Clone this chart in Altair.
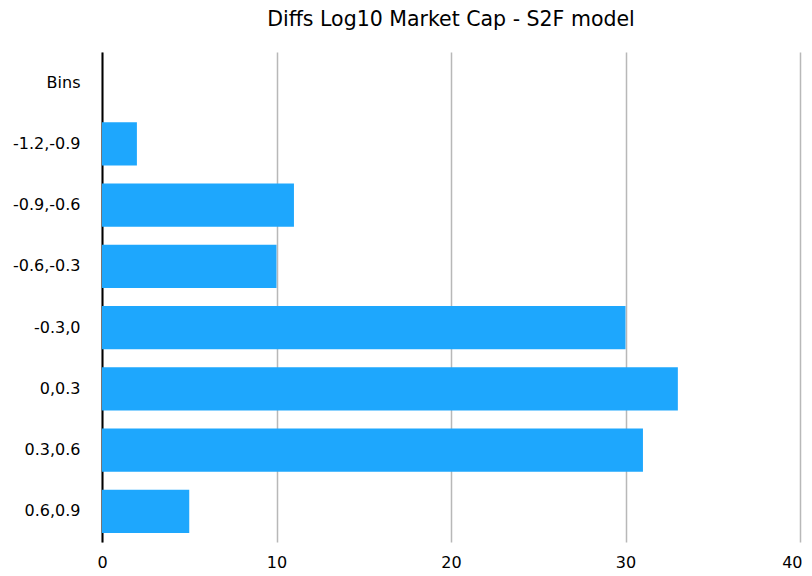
import altair as alt
import pandas as pd

bins = ["Bins", "-1.2,-0.9", "-0.9,-0.6", "-0.6,-0.3", "-0.3,0", "0,0.3", "0.3,0.6", "0.6,0.9"]
counts = [None, 2, 11, 10, 30, 33, 31, 5]
x_ticks = [0, 10, 20, 30, 40]

df = pd.DataFrame({"bin": bins, "count": counts})

FONT = "DejaVu Sans"

chart = alt.Chart(df).mark_bar(color="#1EA7FD").encode(
    y=alt.Y("bin:N", sort=bins,
            scale=alt.Scale(domain=bins, paddingInner=0.29, paddingOuter=0.145),
            axis=alt.Axis(title=None, ticks=False, domainColor="#000000", domainWidth=2,
                          labelFontSize=16, labelFont=FONT, labelColor="#000000",
                          labelPadding=22, grid=False)),
    x=alt.X("count:Q", scale=alt.Scale(domain=[0, 40], nice=False),
            axis=alt.Axis(title=None, ticks=False, domain=False, values=x_ticks,
                          gridColor="#b8b8b8", gridWidth=1.5, labelFontSize=16, labelFont=FONT,
                          labelColor="#000000", labelPadding=12, labelFlush=False,
                          labelAlign=alt.expr("datum.value == 40 ? 'right' : 'center'"),
                          labelOffset=alt.expr("datum.value == 40 ? 2 : 0"))),
).properties(
    width=698, height=490,
    title=alt.Title("Diffs Log10 Market Cap - S2F model", fontSize=20.5, font=FONT,
                    fontWeight="normal", color="#000000", anchor="middle", offset=22),
    autosize=alt.AutoSizeParams(type="none"),
    padding={"left": 94, "top": 44, "right": 4, "bottom": 30},
).configure_view(stroke=None)

chart.save("out.html", embed_options={"renderer": "svg", "actions": False})
